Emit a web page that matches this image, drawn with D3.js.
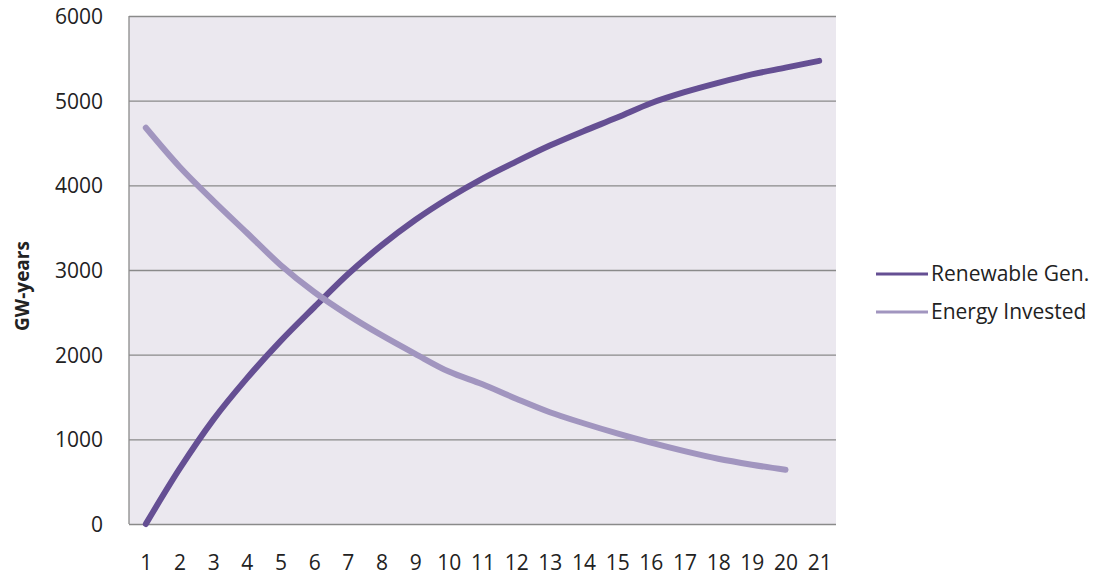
<!DOCTYPE html>
<html>
<head>
<meta charset="utf-8">
<script src="https://cdn.jsdelivr.net/npm/d3@7"></script>
<style>
  html, body { margin: 0; padding: 0; background: #fff; overflow: hidden; }
  svg { display: block; }
  text { font-family: "Open Sans", "Liberation Sans", sans-serif; fill: #222; }
</style>
</head>
<body>
<svg width="1111" height="579"></svg>
<script>
const years = d3.range(1, 22);
const renewableGen = [0, 650, 1230, 1720, 2160, 2560, 2950, 3290, 3590, 3850, 4080,
  4280, 4470, 4640, 4800, 4970, 5100, 5210, 5310, 5390, 5470];
const energyInvested = [4680, 4220, 3820, 3440, 3060, 2740, 2470, 2230, 2010, 1800,
  1650, 1480, 1320, 1190, 1070, 960, 860, 770, 700, 640];
const yTicks = [0, 1000, 2000, 3000, 4000, 5000, 6000];

const series = [
  { name: "Renewable Gen.", values: renewableGen, color: "#654f93" },
  { name: "Energy Invested", values: energyInvested, color: "#a195bf" }
];

const svg = d3.select("svg");
const margin = { top: 16, right: 275, bottom: 55, left: 129 };
const width = +svg.attr("width");
const height = +svg.attr("height");
const innerWidth = width - margin.left - margin.right;
const innerHeight = height - margin.top - margin.bottom;

const xScale = d3.scalePoint()
  .domain(years)
  .range([0, innerWidth])
  .padding(0.5);

const yScale = d3.scaleLinear()
  .domain([0, 6000])
  .range([innerHeight, 0]);

const g = svg.append("g")
  .attr("transform", `translate(${margin.left}, ${margin.top})`);

// plot background
g.append("rect")
  .attr("width", innerWidth)
  .attr("height", innerHeight)
  .attr("fill", "#ebe8ef");

// y axis with gridlines
const yAxisG = g.append("g")
  .call(d3.axisLeft(yScale)
    .tickValues(yTicks)
    .tickFormat(d3.format("d"))
    .tickSize(-innerWidth)
    .tickPadding(26));
yAxisG.select(".domain").remove();
yAxisG.selectAll(".tick line").attr("stroke", "#8a8a8a").attr("stroke-width", 1.3);
yAxisG.selectAll(".tick text").attr("font-size", 21).attr("dy", "0.36em");

// left border
g.append("line")
  .attr("x1", 0).attr("x2", 0)
  .attr("y1", 0).attr("y2", innerHeight)
  .attr("stroke", "#8a8a8a").attr("stroke-width", 1.3);

// x axis
const xAxisG = g.append("g")
  .attr("transform", `translate(0, ${innerHeight})`)
  .call(d3.axisBottom(xScale).tickSize(0).tickPadding(31));
xAxisG.select(".domain").remove();
xAxisG.selectAll(".tick text").attr("font-size", 21);

// axis label
g.append("text")
  .attr("transform", `translate(${-100}, ${innerHeight / 2 + 16}) rotate(-90)`)
  .attr("text-anchor", "middle")
  .attr("font-size", 19)
  .attr("font-weight", "bold")
  .text("GW-years");

const line = d3.line()
  .x((d, i) => xScale(years[i]))
  .y((d) => yScale(d))
  .curve(d3.curveMonotoneX);

g.selectAll(".series")
  .data(series)
  .join("path")
  .attr("class", "series")
  .attr("d", (d) => line(d.values))
  .attr("fill", "none")
  .attr("stroke", (d) => d.color)
  .attr("stroke-width", 6)
  .attr("stroke-linecap", "round")
  .attr("stroke-linejoin", "round");

// legend
const legend = svg.append("g")
  .attr("transform", "translate(876, 274)");

const items = legend.selectAll("g")
  .data(series)
  .join("g")
  .attr("transform", (d, i) => `translate(0, ${i * 38})`);

items.append("line")
  .attr("x1", 0).attr("x2", 52)
  .attr("stroke", (d) => d.color)
  .attr("stroke-width", 3);

items.append("text")
  .attr("x", 55)
  .attr("dy", "0.35em")
  .attr("font-size", 21)
  .text((d) => d.name);
</script>
</body>
</html>
